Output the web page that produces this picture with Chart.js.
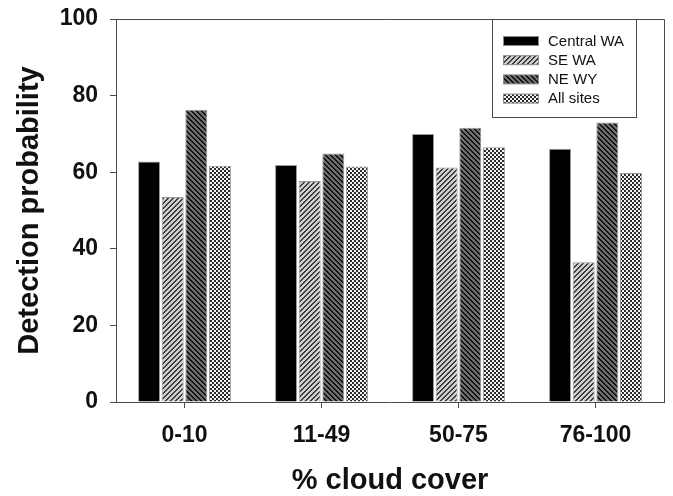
<!DOCTYPE html>
<html>
<head>
<meta charset="utf-8">
<script src="https://cdn.jsdelivr.net/npm/chart.js@4"></script>
<style>
  html, body { margin: 0; padding: 0; background: #fff; }
  #wrap { width: 673px; height: 496px; position: relative; }
</style>
</head>
<body>
<div id="wrap"><canvas id="chart"></canvas></div>
<script>
// cloud cover categories and detection probability per site group
const categories = ['0-10', '11-49', '50-75', '76-100'];
const seriesNames = ['Central WA', 'SE WA', 'NE WY', 'All sites'];
const centralWA = [62.8, 61.9, 70.0, 66.1];
const seWA      = [53.5, 57.7, 61.2, 36.5];
const neWY      = [76.3, 64.9, 71.6, 73.0];
const allSites  = [61.7, 61.5, 66.5, 59.8];
const yTicks    = [0, 20, 40, 60, 80, 100];

// pixel tiles -> canvas patterns
function makeTile(size, painter) {
    const c = document.createElement('canvas');
    c.width = size; c.height = size;
    const g = c.getContext('2d');
    for (let y = 0; y < size; y++) {
        for (let x = 0; x < size; x++) {
            g.fillStyle = painter(x, y);
            g.fillRect(x, y, 1, 1);
        }
    }
    return g.createPattern(c, 'repeat');
}

const patSE  = makeTile(5, (x, y) => ((x + y) % 5 < 2 ? '#3c3c3c' : '#cfcfcf'));
const patNE  = makeTile(5, (x, y) => (((x - y) % 5 + 5) % 5 < 2 ? '#111' : '#6e6e6e'));
const patAll = makeTile(4, (x, y) => {
    const a = (x < 2) === (y < 2);
    return a ? '#f4f4f4' : '#2a2a2a';
});

const fills = ['#000', patSE, patNE, patAll];

// frame round the plot + legend box inside
const framePlugin = {
    id: 'frame',
    afterDatasetsDraw(chart) {
        const { ctx, chartArea: a } = chart;
        ctx.save();
        ctx.strokeStyle = '#4a4a4a';
        ctx.lineWidth = 1;
        ctx.beginPath();
        ctx.moveTo(a.left, a.top + 0.5);
        ctx.lineTo(a.right + 0.5, a.top + 0.5);
        ctx.lineTo(a.right + 0.5, a.bottom);
        ctx.stroke();

        // legend
        const bx = 492.5, by = a.top + 0.5, bw = 144, bh = 98;
        ctx.strokeRect(bx, by, bw, bh);
        ctx.font = '15px "Liberation Sans", Arial, sans-serif';
        ctx.textBaseline = 'middle';
        ctx.textAlign = 'left';
        chart.data.datasets.forEach((ds, i) => {
            const cy = by + 21.5 + i * 19.2;
            ctx.fillStyle = ds.backgroundColor;
            ctx.fillRect(503, cy - 4.5, 36, 9);
            ctx.strokeStyle = '#8a8a8a';
            ctx.strokeRect(503.5, cy - 4.5, 35, 9);
            ctx.fillStyle = '#111';
            ctx.fillText(ds.label, 548, cy + 0.5);
        });
        ctx.restore();
    }
};

const boldTick = { family: '"Liberation Sans", Arial, sans-serif', size: 23, weight: 'bold' };
const boldTitle = { family: '"Liberation Sans", Arial, sans-serif', size: 29, weight: 'bold', lineHeight: 1 };

new Chart(document.getElementById('chart'), {
    type: 'bar',
    data: {
        labels: categories,
        datasets: [centralWA, seWA, neWY, allSites].map((vals, i) => ({
            label: seriesNames[i],
            data: vals,
            backgroundColor: fills[i],
            borderColor: '#9a9a9a',
            borderWidth: 1,
            categoryPercentage: 0.69,
            barPercentage: 0.93
        }))
    },
    options: {
        responsive: true,
        maintainAspectRatio: false,
        animation: false,
        devicePixelRatio: 1,
        layout: { padding: { top: 19, right: 9, left: 0, bottom: 0 } },
        plugins: { legend: { display: false }, tooltip: { enabled: false } },
        scales: {
            x: {
                grid: { display: true, drawOnChartArea: false, offset: false, tickLength: 6, color: '#4a4a4a' },
                border: { color: '#4a4a4a' },
                ticks: { color: '#111', font: boldTick, padding: 14 },
                title: { display: true, text: '% cloud cover', color: '#111', font: boldTitle, padding: { top: 0, bottom: 1 } },
                afterFit: s => { s.height = 94; s.paddingLeft = 0; s.paddingRight = 0; }
            },
            y: {
                min: 0, max: 100,
                afterBuildTicks: s => { s.ticks = yTicks.map(v => ({ value: v })); },
                grid: { drawOnChartArea: false, tickLength: 6, color: '#4a4a4a' },
                border: { color: '#4a4a4a' },
                ticks: { color: '#111', font: boldTick, padding: 12 },
                title: { display: true, text: 'Detection probability', color: '#111', font: boldTitle, padding: { top: 15, bottom: 0 } },
                afterFit: s => { s.width = 116; s.paddingTop = 0; s.paddingBottom = 0; }
            }
        }
    },
    plugins: [framePlugin]
});
</script>
</body>
</html>
